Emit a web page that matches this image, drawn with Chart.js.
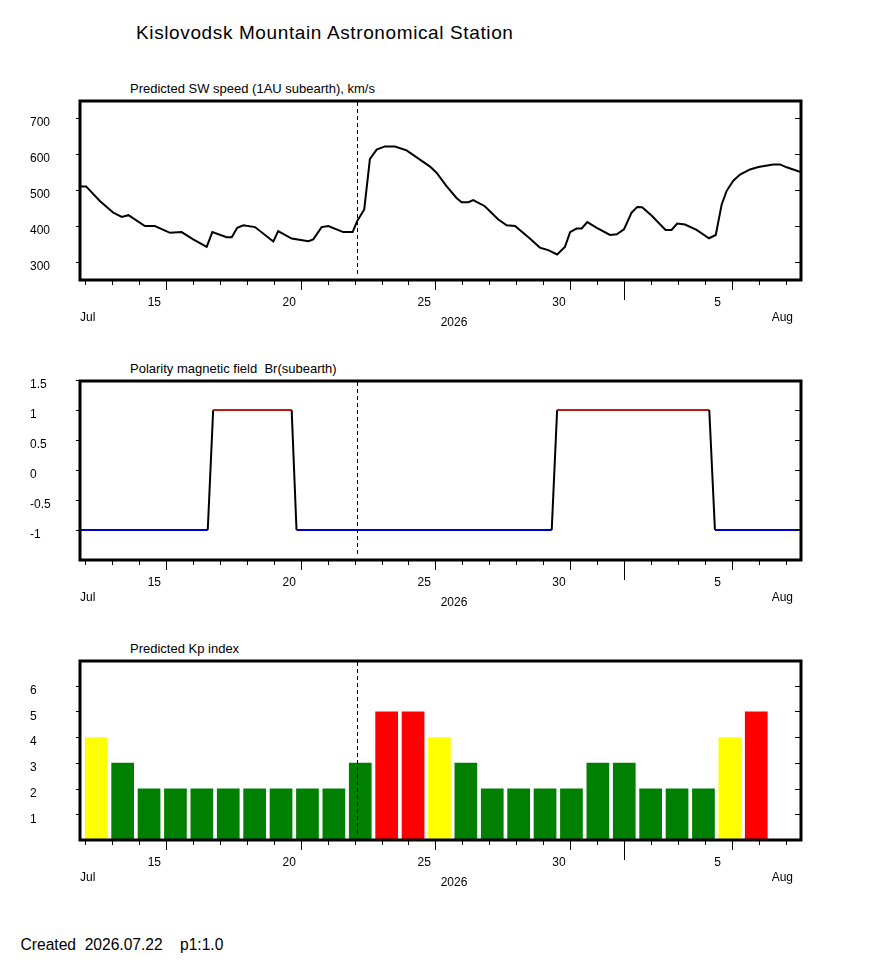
<!DOCTYPE html>
<html>
<head>
<meta charset="utf-8">
<title>Kislovodsk Mountain Astronomical Station</title>
<script src="https://cdn.jsdelivr.net/npm/chart.js@4.4.0/dist/chart.umd.min.js"></script>
<style>
  body { margin: 0; background: #fff; }
  #page { position: relative; width: 870px; height: 965px; font-family: "Liberation Sans", Arial, sans-serif; color: #000; }
  .txt { position: absolute; white-space: pre; line-height: 1; }
  canvas { position: absolute; left: 0; }
</style>
</head>
<body>
<div id="page">
  <div class="txt" style="left:136px; top:22.5px; font-size:19px; letter-spacing:0.62px;">Kislovodsk Mountain Astronomical Station</div>
  <div class="txt" style="left:130px; top:82px; font-size:13px;">Predicted SW speed (1AU subearth), km/s</div>
  <div class="txt" style="left:130px; top:362px; font-size:13px;">Polarity magnetic field  Br(subearth)</div>
  <div class="txt" style="left:130px; top:642px; font-size:13px;">Predicted Kp index</div>
  <div class="txt" style="left:20.5px; top:936.5px; font-size:15.6px;">Created  2026.07.22    p1:1.0</div>
  <canvas id="sw" width="870" height="280" style="top:60px"></canvas>
  <canvas id="br" width="870" height="280" style="top:340px"></canvas>
  <canvas id="kp" width="870" height="280" style="top:620px"></canvas>
</div>
<script>
// time axis: day of July 2026 (32 = Aug 1)
const dayMin = 11.824;
const dayMax = 38.55;
const nowDay = 22.1;
const monthStartDay = 32;
const labelDays = [15, 20, 25, 30, 36];
const labelText = ["15", "20", "25", "30", "5"];
const monthNames = ["Jul", "Aug"];
const yearName = "2026";

// solar wind speed, km/s
const swDays = [11.82, 12.05, 12.57, 13.06, 13.37, 13.62, 14.23, 14.60, 15.16, 15.59,
    16.02, 16.52, 16.73, 17.26, 17.45, 17.65, 17.88, 18.31, 18.99, 19.17,
    19.67, 20.29, 20.47, 20.78, 21.03, 21.58, 21.93, 22.10, 22.36, 22.57,
    22.82, 23.13, 23.50, 23.93, 24.80, 25.04, 25.41, 25.78, 25.97, 26.22,
    26.40, 26.83, 27.33, 27.64, 27.95, 28.50, 28.87, 29.18, 29.51, 29.80,
    29.99, 30.23, 30.42, 30.63, 30.98, 31.47, 31.72, 31.99, 32.27, 32.48,
    32.66, 33.01, 33.53, 33.75, 33.96, 34.25, 34.68, 35.14, 35.39, 35.61,
    35.79, 36.04, 36.29, 36.66, 36.97, 37.52, 37.77, 38.02, 38.45, 38.55];
const swSpeed = [510, 510, 469, 437, 425, 430, 400, 400, 381, 383,
    363, 342, 383, 369, 369, 395, 402, 397, 357, 386,
    365, 358, 363, 397, 400, 383, 383, 414, 446, 586,
    612, 621, 621, 610, 565, 548, 511, 478, 466, 466,
    472, 455, 418, 402, 400, 365, 340, 333, 321, 342,
    383, 393, 393, 411, 395, 375, 377, 391, 437, 453,
    452, 429, 389, 389, 407, 404, 389, 366, 375, 460,
    497, 526, 543, 557, 564, 571, 571, 563, 552, 550];
const swTicks = [300, 400, 500, 600, 700];

// polarity Br
const brDays = [11.82, 16.56, 16.76, 19.67, 19.85, 29.31, 29.51, 35.15, 35.36, 38.55];
const brValue = [-1, -1, 1, 1, -1, -1, 1, 1, -1, -1];
const brTicks = [-1, -0.5, 0, 0.5, 1, 1.5];

// Kp index, one bar per day
const kpDays = [12, 13, 14, 15, 16, 17, 18, 19, 20, 21, 22, 23, 24,
    25, 26, 27, 28, 29, 30, 31, 32, 33, 34, 35, 36, 37];
const kpValue = [4, 3, 2, 2, 2, 2, 2, 2, 2, 2, 3, 5, 5,
    4, 3, 2, 2, 2, 2, 3, 3, 2, 2, 2, 4, 5];
const kpTicks = [1, 2, 3, 4, 5, 6];

const redColor = "#FF0000";
const yellowColor = "#FFFF00";
const greenColor = "#008000";
const fontFamily = '"Liberation Sans", Arial, sans-serif';

Chart.defaults.font.family = fontFamily;
Chart.defaults.font.size = 12;
Chart.defaults.color = "#000";

// frame, tick marks, "now" line and month/year captions
const framePlugin = {
    id: "frame",
    afterDatasetsDraw(chart) {
        const ctx = chart.ctx;
        const a = chart.chartArea;
        const x = chart.scales.x;
        const y = chart.scales.y;
        ctx.save();
        ctx.strokeStyle = "#000";
        ctx.lineWidth = 1;

        ctx.setLineDash([4, 3]);
        const nx = Math.round(x.getPixelForValue(nowDay)) + 0.5;
        ctx.beginPath();
        ctx.moveTo(nx, a.top + 2);
        ctx.lineTo(nx, a.bottom - 4);
        ctx.stroke();
        ctx.setLineDash([]);

        ctx.beginPath();
        for (const t of y.ticks) {
            const py = Math.round(y.getPixelForValue(t.value)) + 0.5;
            ctx.moveTo(a.left - 4, py);
            ctx.lineTo(a.left, py);
            ctx.moveTo(a.right - 6, py);
            ctx.lineTo(a.right, py);
        }
        for (const t of x.ticks) {
            let len = 5;
            if (labelDays.includes(t.value)) len = 10;
            if (t.value === monthStartDay) len = 20;
            const px = Math.round(x.getPixelForValue(t.value)) + 0.5;
            ctx.moveTo(px, a.bottom);
            ctx.lineTo(px, a.bottom + len);
        }
        ctx.stroke();

        ctx.lineWidth = 3;
        ctx.strokeRect(a.left, a.top + 1, a.right - a.left, a.bottom - a.top - 1);

        ctx.fillStyle = "#000";
        ctx.font = "12px " + fontFamily;
        ctx.textBaseline = "middle";
        ctx.textAlign = "left";
        ctx.fillText(monthNames[0], a.left, a.bottom + 38);
        ctx.textAlign = "center";
        ctx.fillText(yearName, 454, a.bottom + 43);
        ctx.textAlign = "right";
        ctx.fillText(monthNames[1], 793, a.bottom + 38);
        ctx.restore();
    }
};

function timeAxis() {
    return {
        type: "linear",
        min: dayMin,
        max: dayMax,
        offset: false,
        afterBuildTicks: (s) => {
            const ticks = [];
            for (let d = 12; d <= 38; d++) ticks.push({ value: d });
            s.ticks = ticks;
        },
        afterFit: (s) => { s.height = 60; },
        grid: { display: false, drawTicks: false, offset: false },
        border: { display: false },
        ticks: {
            autoSkip: false,
            maxRotation: 0,
            minRotation: 0,
            align: "start",
            labelOffset: -18,
            padding: 15,
            callback: (v) => {
                const i = labelDays.indexOf(v);
                return i >= 0 ? labelText[i] : "";
            }
        }
    };
}

function valueAxis(min, max, tickValues) {
    return {
        type: "linear",
        min: min,
        max: max,
        afterBuildTicks: (s) => { s.ticks = tickValues.map((v) => ({ value: v })); },
        afterFit: (s) => { s.width = 50; },
        grid: { display: false, drawTicks: false },
        border: { display: false },
        ticks: { crossAlign: "far", labelOffset: 5, padding: 0, callback: (v) => String(v) }
    };
}

const baseOptions = {
    responsive: false,
    animation: false,
    layout: { padding: { left: 30, right: 69, top: 40, bottom: 0 } },
    plugins: { legend: { display: false }, tooltip: { enabled: false } }
};

new Chart(document.getElementById("sw"), {
    type: "line",
    data: {
        datasets: [{
            data: swDays.map((d, i) => ({ x: d, y: swSpeed[i] })),
            borderColor: "#000",
            borderWidth: 2,
            pointRadius: 0,
            tension: 0
        }]
    },
    options: { ...baseOptions, scales: { x: timeAxis(), y: valueAxis(250, 750, swTicks) } },
    plugins: [framePlugin]
});

new Chart(document.getElementById("br"), {
    type: "line",
    data: {
        datasets: [{
            data: brDays.map((d, i) => ({ x: d, y: brValue[i] })),
            borderColor: "#000",
            borderWidth: 2,
            pointRadius: 0,
            tension: 0,
            segment: {
                borderColor: (c) => {
                    if (c.p0.parsed.y !== c.p1.parsed.y) return "#000";
                    return c.p0.parsed.y > 0 ? "#C01818" : "#0000CC";
                }
            }
        }]
    },
    options: { ...baseOptions, scales: { x: timeAxis(), y: valueAxis(-1.5, 1.5, brTicks) } },
    plugins: [framePlugin]
});

// bars sit on their own hidden day axis (bar pitch is a little under one day step)
new Chart(document.getElementById("kp"), {
    type: "bar",
    data: {
        datasets: [{
            data: kpDays.map((d, i) => ({ x: d, y: kpValue[i] })),
            xAxisID: "xb",
            backgroundColor: (c) => {
                const v = kpValue[c.dataIndex];
                if (v >= 5) return redColor;
                if (v >= 4) return yellowColor;
                return greenColor;
            },
            borderWidth: 0,
            barPercentage: 0.86,
            categoryPercentage: 1
        }]
    },
    options: {
        ...baseOptions,
        scales: {
            x: timeAxis(),
            xb: { type: "linear", display: false, offset: false, min: 11.3845, max: 38.695 },
            y: valueAxis(0, 7, kpTicks)
        }
    },
    plugins: [framePlugin]
});
</script>
</body>
</html>
